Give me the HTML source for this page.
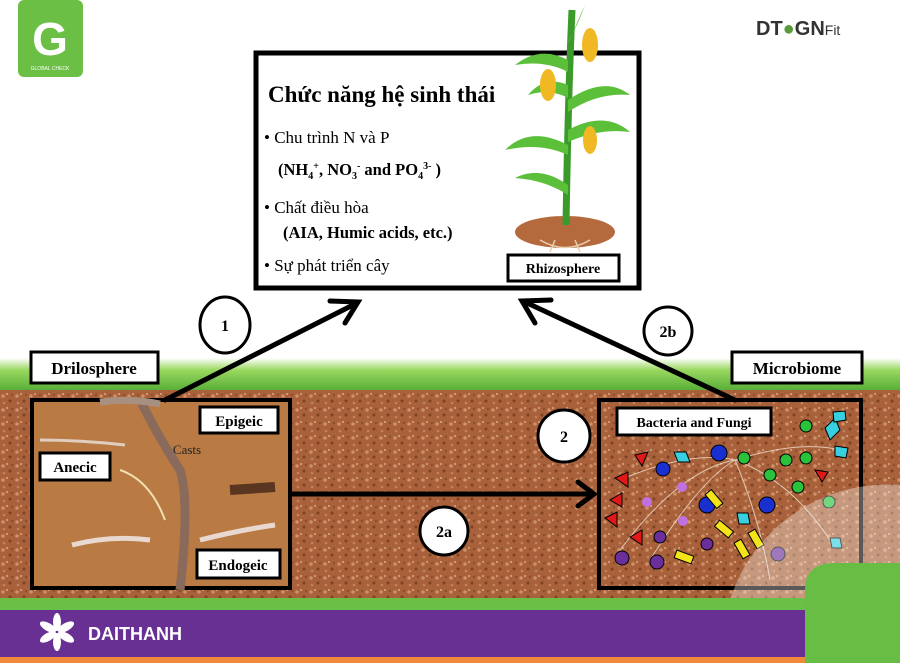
<!DOCTYPE html>
<html><head><meta charset="utf-8"><style>
html,body{margin:0;padding:0;width:900px;height:666px;overflow:hidden;background:#fff;font-family:"Liberation Serif",serif}
svg{display:block}
</style></head><body>
<svg width="900" height="666" viewBox="0 0 900 666" xmlns="http://www.w3.org/2000/svg" font-family="Liberation Serif, serif">
<defs>
<pattern id="soil" width="14" height="14" patternUnits="userSpaceOnUse">
<rect width="14" height="14" fill="#a8613a"/>
<circle cx="3" cy="4" r="1.8" fill="#cf9066"/><circle cx="10" cy="9" r="1.5" fill="#7d4224"/>
<circle cx="7" cy="2" r="1" fill="#dcaa86"/><circle cx="12" cy="3" r="1.2" fill="#8c4e2c"/><circle cx="4" cy="11" r="1.3" fill="#c4825a"/>
</pattern>
<linearGradient id="grass" x1="0" y1="0" x2="0" y2="1"><stop offset="0" stop-color="#fff"/><stop offset="0.3" stop-color="#9ad860"/><stop offset="1" stop-color="#3f9e28"/></linearGradient>
</defs>
<rect x="0" y="358" width="900" height="40" fill="url(#grass)"/>
<rect x="0" y="390" width="900" height="210" fill="url(#soil)"/>
<rect x="32" y="400" width="258" height="188" fill="#b97a44" stroke="#000" stroke-width="4"/>
<path d="M140 400 Q160 440 180 470 Q190 500 180 590" stroke="#8a6a5a" stroke-width="9" fill="none"/>
<path d="M100 402 Q130 398 160 404" stroke="#a89080" stroke-width="7" fill="none"/>
<path d="M72 545 Q110 535 150 540" stroke="#e8d8d0" stroke-width="5" fill="none"/>
<path d="M200 540 Q240 530 275 525" stroke="#e8d8d0" stroke-width="5" fill="none"/>
<path d="M40 440 Q80 440 125 445" stroke="#e0cfc0" stroke-width="3" fill="none"/>
<path d="M230 490 L275 487" stroke="#5a3520" stroke-width="10"/>
<path d="M120 470 Q150 480 165 520" stroke="#f0e0b0" stroke-width="2" fill="none"/>
<rect x="200" y="407" width="78" height="26" fill="#fff" stroke="#000" stroke-width="3"/>
<text x="239" y="426" font-size="15" font-weight="bold" text-anchor="middle">Epigeic</text>
<rect x="40" y="453" width="70" height="27" fill="#fff" stroke="#000" stroke-width="3"/>
<text x="75" y="472" font-size="15" font-weight="bold" text-anchor="middle">Anecic</text>
<rect x="197" y="550" width="83" height="28" fill="#fff" stroke="#000" stroke-width="3"/>
<text x="238" y="570" font-size="15" font-weight="bold" text-anchor="middle">Endogeic</text>
<text x="187" y="454" font-size="13" fill="#222" text-anchor="middle">Casts</text>
<rect x="31" y="352" width="127" height="31" fill="#fff" stroke="#000" stroke-width="3"/>
<text x="94" y="374" font-size="17" font-weight="bold" text-anchor="middle">Drilosphere</text>
<rect x="732" y="352" width="130" height="31" fill="#fff" stroke="#000" stroke-width="3"/>
<text x="797" y="374" font-size="17" font-weight="bold" text-anchor="middle">Microbiome</text>
<rect x="599" y="400" width="262" height="188" fill="none" stroke="#000" stroke-width="4"/>
<rect x="617" y="408" width="154" height="27" fill="#fff" stroke="#000" stroke-width="3"/>
<text x="694" y="427" font-size="14" font-weight="bold" text-anchor="middle">Bacteria and Fungi</text>
<g stroke="#f0e0d0" stroke-width="1" fill="none" opacity="0.8">
<path d="M620 550 Q680 470 735 460"/><path d="M650 560 Q700 480 735 460"/><path d="M735 460 Q790 480 830 540"/><path d="M735 460 Q760 520 770 580"/><path d="M620 480 Q690 450 735 460"/><path d="M735 460 Q800 440 840 450"/></g>
<g fill="#1a2fd0" stroke="#000"><circle cx="663" cy="469" r="7"/><circle cx="719" cy="453" r="8"/><circle cx="707" cy="505" r="8"/><circle cx="767" cy="505" r="8"/></g>
<g fill="#6a2f9a" stroke="#000"><circle cx="622" cy="558" r="7"/><circle cx="657" cy="562" r="7"/><circle cx="660" cy="537" r="6"/><circle cx="707" cy="544" r="6"/><circle cx="778" cy="554" r="7"/></g>
<g fill="#e01818" stroke="#000"><polygon points="635,455 648,452 642,466"/><polygon points="615,478 628,472 628,487"/><polygon points="610,500 622,493 622,507"/><polygon points="605,518 617,512 617,527"/><polygon points="630,537 642,530 642,545"/><polygon points="815,470 828,472 822,482"/></g>
<g fill="#29c23a" stroke="#000"><circle cx="806" cy="426" r="6"/><circle cx="744" cy="458" r="6"/><circle cx="786" cy="460" r="6"/><circle cx="806" cy="458" r="6"/><circle cx="770" cy="475" r="6"/><circle cx="798" cy="487" r="6"/><circle cx="829" cy="502" r="6"/></g>
<g fill="#37d0e0" stroke="#000"><polygon points="674,452 686,452 690,462 678,462"/><polygon points="825,428 835,418 840,430 830,440"/><polygon points="833,412 845,411 846,420 834,422"/><polygon points="835,446 848,448 846,458 835,456"/><polygon points="737,513 748,513 750,524 739,524"/><polygon points="830,538 840,538 842,548 832,548"/></g>
<g fill="#f3e41a" stroke="#000"><rect x="710" y="490" width="8" height="18" transform="rotate(-40 714 499)"/><rect x="720" y="520" width="8" height="18" transform="rotate(-50 724 529)"/><rect x="680" y="548" width="8" height="18" transform="rotate(-70 684 557)"/><rect x="738" y="540" width="8" height="18" transform="rotate(-30 742 549)"/><rect x="752" y="530" width="8" height="18" transform="rotate(-30 756 539)"/></g>
<g fill="#c070e0"><circle cx="682" cy="487" r="5"/><circle cx="647" cy="502" r="5"/><circle cx="683" cy="521" r="5"/></g>
<path d="M730 600 A165 165 0 0 1 900 485 L900 600 Z" fill="#fff" opacity="0.35"/>
<rect x="256" y="53" width="383" height="235" fill="#fff" stroke="#000" stroke-width="5"/>
<text x="268" y="102" font-size="23" font-weight="bold">Chức năng hệ sinh thái</text>
<text x="264" y="143" font-size="17">• Chu trình N và P</text>
<text x="278" y="175" font-size="16.5" font-weight="bold">(NH<tspan font-size="10" dy="4">4</tspan><tspan font-size="10" dy="-10">+</tspan><tspan dy="6">, NO</tspan><tspan font-size="10" dy="4">3</tspan><tspan font-size="10" dy="-10">-</tspan><tspan dy="6">  and PO</tspan><tspan font-size="10" dy="4">4</tspan><tspan font-size="10" dy="-10">3-</tspan><tspan dy="6"> )</tspan></text>
<text x="264" y="213" font-size="17">• Chất điều hòa</text>
<text x="283" y="238" font-size="16.5" font-weight="bold">(AIA, Humic acids, etc.)</text>
<text x="264" y="271" font-size="17">• Sự phát triển cây</text>
<ellipse cx="565" cy="232" rx="50" ry="16" fill="#b56a3e"/>
<path d="M540 240 Q565 255 590 240 M555 240 L550 252 M575 240 L580 252" stroke="#e8d0b0" stroke-width="1.5" fill="none"/>
<path d="M572 10 Q568 100 566 225" stroke="#3a9a2a" stroke-width="7" fill="none"/>
<g fill="#5cbf3a"><path d="M568 60 Q540 45 515 65 Q545 60 568 72Z"/><path d="M568 100 Q605 75 630 95 Q598 92 568 112Z"/><path d="M568 145 Q530 125 505 150 Q540 142 568 155Z"/><path d="M568 130 Q605 110 630 132 Q600 128 568 142Z"/><path d="M568 185 Q540 165 515 178 Q545 180 568 195Z"/><path d="M570 40 Q578 20 585 5 Q578 25 568 42Z"/><path d="M568 85 Q545 75 528 95 Q550 88 568 98Z"/></g>
<g fill="#f0b823"><ellipse cx="590" cy="45" rx="8" ry="17"/><ellipse cx="548" cy="85" rx="8" ry="16"/><ellipse cx="590" cy="140" rx="7" ry="14"/></g>
<rect x="508" y="255" width="111" height="26" fill="#fff" stroke="#000" stroke-width="3"/>
<text x="563" y="273" font-size="14" font-weight="bold" text-anchor="middle">Rhizosphere</text>
<g stroke="#000" stroke-width="5" fill="none" stroke-linecap="round">
<line x1="165" y1="400" x2="355" y2="304"/><polyline points="330,301 358,302 345,323"/>
<line x1="735" y1="400" x2="525" y2="302"/><polyline points="535,323 522,301 551,300"/>
<line x1="292" y1="494" x2="592" y2="494"/><polyline points="578,482 594,494 578,506"/>
</g>
<g fill="#fff" stroke="#000" stroke-width="3">
<ellipse cx="225" cy="325" rx="25" ry="28"/><circle cx="668" cy="331" r="24"/><circle cx="564" cy="436" r="26"/><circle cx="444" cy="531" r="24"/></g>
<g font-size="16" font-weight="bold" text-anchor="middle">
<text x="225" y="331">1</text><text x="668" y="337">2b</text><text x="564" y="442">2</text><text x="444" y="537">2a</text></g>
<rect x="0" y="598" width="900" height="12" fill="#6abf46"/>
<rect x="0" y="610" width="900" height="47" fill="#683092"/>
<rect x="0" y="657" width="900" height="6" fill="#f08a3a"/>
<path d="M805 663 L805 590 Q805 563 835 563 L900 563 L900 663Z" fill="#68bd45"/>
<g fill="#fff" transform="translate(57,632)"><ellipse cx="0" cy="-10" rx="4" ry="9"/><ellipse cx="0" cy="10" rx="4" ry="9"/><ellipse cx="-9" cy="-5" rx="4" ry="9" transform="rotate(-60 -9 -5)"/><ellipse cx="9" cy="-5" rx="4" ry="9" transform="rotate(60 9 -5)"/><ellipse cx="-9" cy="5" rx="4" ry="9" transform="rotate(60 -9 5)"/><ellipse cx="9" cy="5" rx="4" ry="9" transform="rotate(-60 9 5)"/></g>
<text x="88" y="640" font-family="Liberation Sans, sans-serif" font-size="18" font-weight="bold" fill="#fff">DAITHANH</text>
<rect x="18" y="0" width="65" height="77" rx="6" fill="#6cbf45"/>
<text x="50" y="55" font-family="Liberation Sans, sans-serif" font-size="46" font-weight="bold" fill="#fff" text-anchor="middle">G</text>
<text x="50" y="70" font-family="Liberation Sans, sans-serif" font-size="5" fill="#fff" text-anchor="middle">GLOBAL CHECK</text>
<text x="756" y="35" font-family="Liberation Sans, sans-serif" font-size="20" font-weight="bold" fill="#333">DT<tspan fill="#5a9a3a">●</tspan>GN<tspan font-size="14" font-weight="normal">Fit</tspan></text>
</svg>
</body></html>
